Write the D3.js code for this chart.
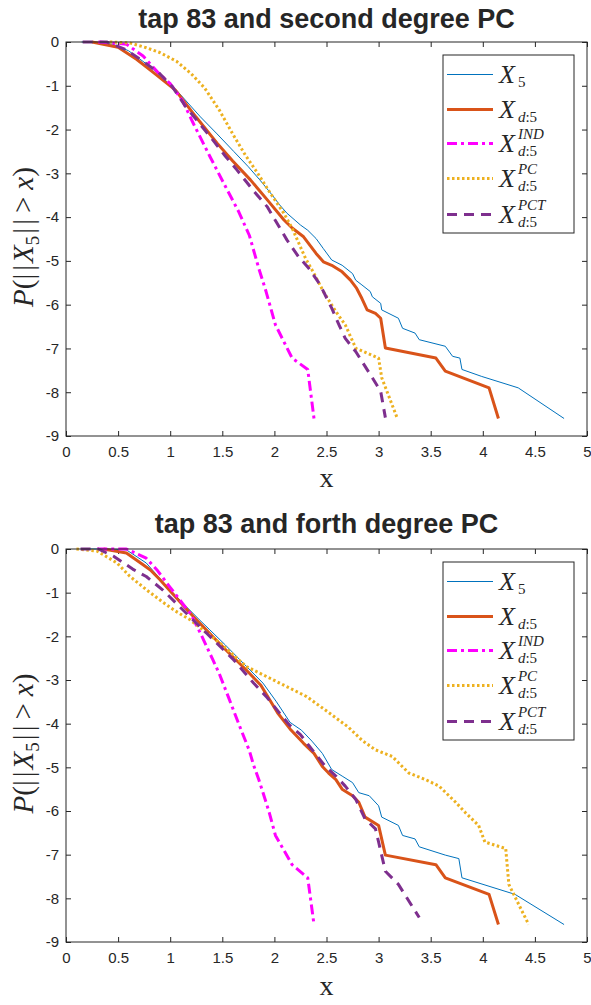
<!DOCTYPE html>
<html>
<head>
<meta charset="utf-8">
<script src="https://cdn.jsdelivr.net/npm/d3@7"></script>
<style>
    body { margin: 0; background: #fff; }
    svg text { fill: #262626; }
</style>
</head>
<body>
<div id="chart"></div>
<script>
// ---- data (log10 tail probability vs x) ----
const X_TICKS = [0, 0.5, 1, 1.5, 2, 2.5, 3, 3.5, 4, 4.5, 5];
const Y_TICKS = [0, -1, -2, -3, -4, -5, -6, -7, -8, -9];
const TITLES = ['tap 83 and second degree PC', 'tap 83 and forth degree PC'];

// second degree PC
const secX5 = [[0.15,0],[0.3,0],[0.45,-0.05],[0.6,-0.2],[0.8,-0.55],[1.06,-1.10],[1.29,-1.71],[1.45,-2.1],[1.61,-2.5],[1.75,-2.85],[1.86,-3.15],[1.98,-3.5],[2.05,-3.72],[2.12,-3.91],[2.25,-4.18],[2.32,-4.3],[2.40,-4.49],[2.47,-4.72],[2.55,-4.98],[2.65,-5.10],[2.75,-5.29],[2.78,-5.44],[2.84,-5.55],[2.92,-5.70],[2.94,-5.82],[3.02,-5.97],[3.03,-6.12],[3.19,-6.31],[3.23,-6.54],[3.35,-6.65],[3.39,-6.80],[3.64,-6.95],[3.71,-7.18],[3.78,-7.22],[3.80,-7.48],[3.99,-7.64],[4.34,-7.90],[4.78,-8.6]];
const secXd5 = [[0.25,0],[0.5,-0.12],[0.68,-0.40],[0.84,-0.70],[1.05,-1.1],[1.25,-1.72],[1.45,-2.31],[1.6,-2.72],[1.77,-3.15],[1.93,-3.6],[2.09,-4.06],[2.17,-4.25],[2.28,-4.45],[2.40,-4.83],[2.47,-5.02],[2.55,-5.10],[2.65,-5.25],[2.73,-5.44],[2.79,-5.63],[2.84,-5.86],[2.89,-6.12],[2.97,-6.20],[3.02,-6.31],[3.065,-6.99],[3.55,-7.22],[3.64,-7.52],[4.06,-7.90],[4.15,-8.6]];
const secInd = [[0.31,0],[0.58,-0.05],[0.74,-0.32],[0.90,-0.74],[1.0,-0.95],[1.12,-1.35],[1.22,-1.85],[1.38,-2.61],[1.53,-3.30],[1.66,-3.89],[1.76,-4.42],[1.85,-5.17],[1.92,-5.70],[2.01,-6.46],[2.17,-7.22],[2.32,-7.48],[2.38,-8.6]];
const secPc = [[0.42,0],[0.61,-0.02],[0.77,-0.13],[0.90,-0.24],[1.06,-0.44],[1.2,-0.72],[1.33,-1.05],[1.47,-1.55],[1.60,-2.1],[1.72,-2.58],[1.84,-3.0],[1.96,-3.45],[2.09,-3.91],[2.17,-4.25],[2.30,-4.95],[2.36,-5.2],[2.47,-5.70],[2.59,-6.16],[2.68,-6.46],[2.78,-6.99],[3.0,-7.22],[3.03,-7.67],[3.18,-8.6]];
const secPct = [[0.16,0],[0.39,0],[0.58,-0.18],[0.72,-0.41],[0.89,-0.70],[1.02,-1.02],[1.15,-1.48],[1.38,-2.15],[1.53,-2.61],[1.64,-2.92],[1.80,-3.40],[1.93,-3.76],[2.0,-4.04],[2.12,-4.52],[2.23,-4.9],[2.33,-5.17],[2.44,-5.55],[2.55,-6.08],[2.62,-6.46],[2.68,-6.77],[2.78,-7.07],[2.94,-7.67],[3.02,-7.98],[3.065,-8.58]];

// forth degree PC
const forX5 = [[0.2,0],[0.4,0],[0.58,-0.02],[0.77,-0.32],[0.97,-0.86],[1.15,-1.31],[1.28,-1.62],[1.38,-1.85],[1.53,-2.2],[1.67,-2.54],[1.89,-3.07],[2.02,-3.5],[2.15,-3.97],[2.26,-4.15],[2.36,-4.40],[2.46,-4.68],[2.55,-5.05],[2.65,-5.20],[2.75,-5.35],[2.81,-5.58],[2.91,-5.65],[3.0,-5.88],[3.03,-6.14],[3.19,-6.33],[3.23,-6.56],[3.35,-6.64],[3.39,-6.82],[3.64,-7.01],[3.77,-7.09],[3.80,-7.53],[4.31,-7.91],[4.78,-8.6]];
const forXd5 = [[0.36,0],[0.58,-0.09],[0.74,-0.36],[0.81,-0.48],[0.90,-0.70],[1.06,-1.12],[1.22,-1.54],[1.41,-2.01],[1.53,-2.3],[1.73,-2.77],[1.87,-3.12],[2.03,-3.75],[2.15,-4.12],[2.28,-4.45],[2.38,-4.68],[2.46,-4.98],[2.52,-5.13],[2.59,-5.28],[2.65,-5.50],[2.75,-5.65],[2.81,-5.80],[2.87,-6.14],[3.0,-6.33],[3.065,-7.01],[3.55,-7.23],[3.64,-7.53],[4.06,-7.91],[4.15,-8.6]];
const forInd = [[0.30,0],[0.58,0],[0.77,-0.21],[0.88,-0.5],[0.99,-0.85],[1.12,-1.25],[1.20,-1.50],[1.30,-1.98],[1.41,-2.54],[1.47,-2.85],[1.57,-3.46],[1.66,-4.02],[1.76,-4.62],[1.80,-4.95],[1.85,-5.28],[1.88,-5.50],[1.95,-6.03],[2.01,-6.56],[2.17,-7.23],[2.32,-7.53],[2.38,-8.6]];
const forPc = [[0.1,0],[0.3,-0.05],[0.49,-0.32],[0.61,-0.62],[0.78,-0.95],[0.93,-1.22],[1.05,-1.42],[1.19,-1.62],[1.33,-1.88],[1.48,-2.16],[1.73,-2.69],[2.05,-3.07],[2.31,-3.38],[2.53,-3.76],[2.62,-3.92],[2.71,-4.08],[2.84,-4.38],[2.97,-4.60],[3.13,-4.75],[3.29,-5.13],[3.45,-5.28],[3.58,-5.43],[3.74,-5.80],[3.83,-6.03],[3.96,-6.33],[4.02,-6.71],[4.22,-6.86],[4.25,-7.68],[4.44,-8.6]];
const forPct = [[0.14,0],[0.31,0],[0.46,-0.17],[0.64,-0.46],[0.77,-0.63],[0.93,-0.94],[1.09,-1.32],[1.35,-1.93],[1.61,-2.54],[1.80,-3.07],[1.93,-3.4],[2.05,-3.76],[2.14,-4.02],[2.25,-4.25],[2.33,-4.5],[2.43,-4.8],[2.49,-4.98],[2.59,-5.20],[2.68,-5.43],[2.78,-5.73],[2.87,-6.18],[2.97,-6.41],[3.0,-6.71],[3.065,-7.38],[3.19,-7.68],[3.39,-8.44]];

// legend entries: superscript / subscript of the calligraphic X
const LEGEND_SUP = ['', '', 'IND', 'PC', 'PCT'];
const LEGEND_SUB = ['5', 'd:5', 'd:5', 'd:5', 'd:5'];

// ---- styles ----
const STYLES = [
    { color: '#0072BD', width: 1,   dash: null },
    { color: '#D95319', width: 3,   dash: null },
    { color: '#FF00FF', width: 3,   dash: '10,4,3,4' },
    { color: '#EDB120', width: 3,   dash: '2.5,2.5' },
    { color: '#7E2F8E', width: 3,   dash: '10,7' }
];

const W = 591, H = 1005;
const X_RANGE = [66, 587];
const PANELS = [
    { top: 42,  bottom: 436, titleY: 28,  xlabY: 487, series: [secX5, secXd5, secInd, secPc, secPct] },
    { top: 549, bottom: 942, titleY: 533, xlabY: 995, series: [forX5, forXd5, forInd, forPc, forPct] }
];
const LEGEND = { x: 443, w: 131, h: 178, dy: 13, rows: [19.5, 54.5, 88.5, 123.5, 159.5] };
const SERIF = '"Liberation Serif", "DejaVu Serif", serif';
const SANS = '"Liberation Sans", Arial, sans-serif';

const svg = d3.select('#chart').append('svg')
    .attr('width', W)
    .attr('height', H);

const x = d3.scaleLinear().domain([0, 5]).range(X_RANGE);

const drawPanel = (panel, idx) => {
    const y = d3.scaleLinear().domain([-9, 0]).range([panel.bottom, panel.top]);
    const g = svg.append('g');
    const fmt = d => String(d);

    const styleAxis = sel => {
        sel.select('.domain').remove();
        sel.selectAll('.tick line').attr('stroke', '#262626');
        sel.selectAll('.tick text')
            .style('font-family', SANS)
            .style('font-size', '15px')
            .attr('fill', '#262626');
    };

    g.append('g')
        .attr('transform', `translate(0, ${panel.bottom})`)
        .call(d3.axisBottom(x).tickValues(X_TICKS).tickFormat(fmt).tickSizeInner(-5).tickSizeOuter(0).tickPadding(10))
        .call(styleAxis);
    g.append('g')
        .attr('transform', `translate(0, ${panel.top})`)
        .call(d3.axisTop(x).tickValues(X_TICKS).tickFormat('').tickSizeInner(-5).tickSizeOuter(0))
        .call(styleAxis);
    g.append('g')
        .attr('transform', `translate(${X_RANGE[0]}, 0)`)
        .call(d3.axisLeft(y).tickValues(Y_TICKS).tickFormat(fmt).tickSizeInner(-5).tickSizeOuter(0).tickPadding(7))
        .call(styleAxis);
    g.append('g')
        .attr('transform', `translate(${X_RANGE[1]}, 0)`)
        .call(d3.axisRight(y).tickValues(Y_TICKS).tickFormat('').tickSizeInner(-5).tickSizeOuter(0))
        .call(styleAxis);

    const line = d3.line().x(d => x(d[0])).y(d => y(d[1]));
    panel.series.forEach((values, i) => {
        const st = STYLES[i];
        g.append('path')
            .attr('d', line(values))
            .attr('fill', 'none')
            .attr('stroke', st.color)
            .attr('stroke-width', st.width)
            .attr('stroke-dasharray', st.dash)
            .attr('stroke-linejoin', 'round');
    });

    g.append('rect')
        .attr('x', X_RANGE[0]).attr('y', panel.top)
        .attr('width', X_RANGE[1] - X_RANGE[0])
        .attr('height', panel.bottom - panel.top)
        .attr('fill', 'none')
        .attr('stroke', '#262626')
        .attr('stroke-width', 1);

    // title
    g.append('text')
        .attr('x', (X_RANGE[0] + X_RANGE[1]) / 2)
        .attr('y', panel.titleY)
        .attr('text-anchor', 'middle')
        .style('font-family', SANS)
        .style('font-weight', 'bold')
        .style('font-size', '27px')
        .attr('fill', '#000')
        .text(TITLES[idx]);

    // x label
    g.append('text')
        .attr('x', (X_RANGE[0] + X_RANGE[1]) / 2)
        .attr('y', panel.xlabY)
        .attr('text-anchor', 'middle')
        .style('font-family', SERIF)
        .style('font-size', '28px')
        .text('x');

    // y label  P(||X_5|| > x)
    const yl = g.append('text')
        .attr('transform', `translate(33, ${(panel.top + panel.bottom) / 2 - 2}) rotate(-90)`)
        .attr('text-anchor', 'middle')
        .style('font-family', SERIF)
        .style('font-size', '29px');
    yl.append('tspan').style('font-style', 'italic').text('P');
    yl.append('tspan').text('(|');
    yl.append('tspan').attr('dx', 3).text('|');
    yl.append('tspan').attr('dx', 2).style('font-style', 'italic').text('X');
    yl.append('tspan').attr('dy', 6).style('font-size', '19px').text('5');
    yl.append('tspan').attr('dy', -6).attr('dx', 2).text('|');
    yl.append('tspan').attr('dx', 3).text('|');
    yl.append('tspan').attr('dx', 6).text('>');
    yl.append('tspan').attr('dx', 7).style('font-style', 'italic').text('x');
    yl.append('tspan').text(')');

    // legend
    const lg = g.append('g');
    const ly0 = panel.top + LEGEND.dy;
    lg.append('rect')
        .attr('x', LEGEND.x).attr('y', ly0)
        .attr('width', LEGEND.w).attr('height', LEGEND.h)
        .attr('fill', '#fff')
        .attr('stroke', '#262626');
    LEGEND.rows.forEach((ry, i) => {
        const st = STYLES[i];
        const cy = ly0 + ry;
        lg.append('line')
            .attr('x1', LEGEND.x + 4).attr('x2', LEGEND.x + 50)
            .attr('y1', cy).attr('y2', cy)
            .attr('stroke', st.color)
            .attr('stroke-width', st.width)
            .attr('stroke-dasharray', st.dash);
        const tx = LEGEND.x + 56;
        const big = lg.append('text')
            .attr('x', tx).attr('y', cy + 8)
            .style('font-family', SERIF)
            .style('font-style', 'italic')
            .style('font-size', '26px')
            .text('X');
        const bw = big.node().getComputedTextLength() + 3;
        if (LEGEND_SUP[i]) {
            lg.append('text')
                .attr('x', tx + bw).attr('y', cy - 5)
                .style('font-family', SERIF)
                .style('font-style', 'italic')
                .style('font-size', '15px')
                .text(LEGEND_SUP[i]);
        }
        const sub = lg.append('text')
            .attr('x', tx + bw).attr('y', cy + 12)
            .style('font-family', SERIF)
            .style('font-size', '15px');
        const parts = LEGEND_SUB[i].split(':');
        if (parts.length === 2) {
            sub.append('tspan').style('font-style', 'italic').text(parts[0]);
            sub.append('tspan').text(':' + parts[1]);
        } else {
            sub.text(parts[0]);
        }
    });
};

PANELS.forEach(drawPanel);
</script>
</body>
</html>
